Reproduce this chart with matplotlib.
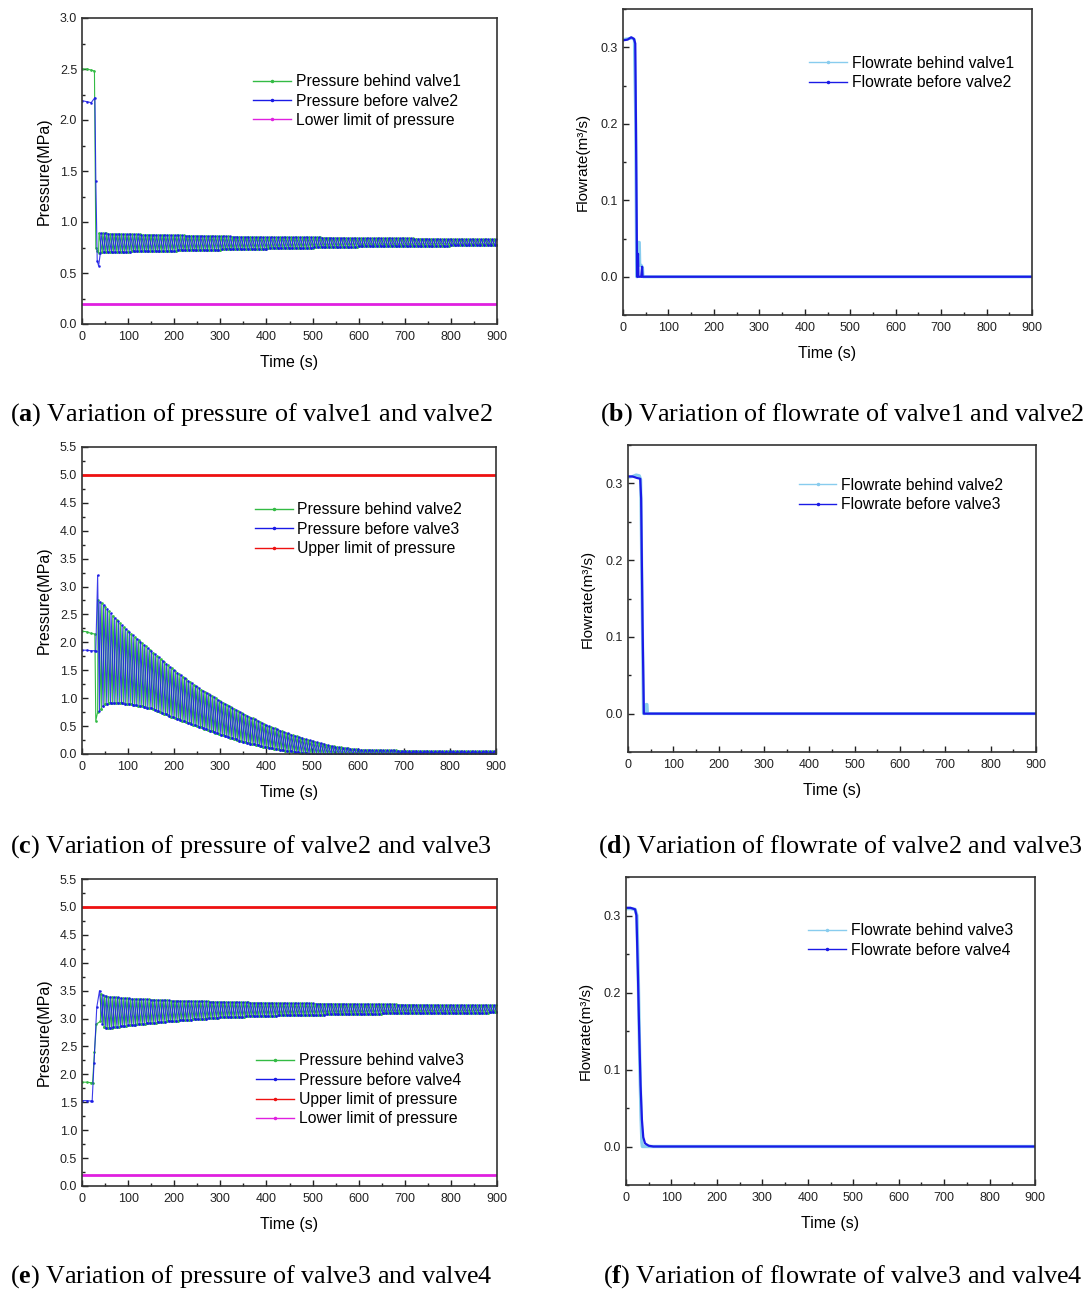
import numpy as np
import matplotlib
matplotlib.use("Agg")
import matplotlib.pyplot as plt
from matplotlib.ticker import MultipleLocator

plt.rcParams['font.family'] = ['Liberation Sans', 'DejaVu Sans']
plt.rcParams['mathtext.fontset'] = 'custom'
plt.rcParams['mathtext.rm'] = 'Liberation Serif'
plt.rcParams['mathtext.bf'] = 'Liberation Serif:bold'

GREEN = '#33bb44'
BLUE = '#1a1ae6'
LIGHT = '#88ccee'
RED = '#ee1111'
MAGENTA = '#e020e0'

# ---- panel (a): pressure valve1 / valve2 ----
a_green_t = [0, 10, 20, 27, 30, 33]
a_green_p = [2.50, 2.50, 2.49, 2.48, 0.75, 0.72]
a_blue_t = [0, 10, 20, 28, 30, 33, 36]
a_blue_p = [2.19, 2.18, 2.17, 2.22, 1.40, 0.62, 0.57]
a_env_t = [36, 100, 200, 300, 400, 500, 600, 700, 800, 900]
a_env_hi = [0.89, 0.88, 0.87, 0.86, 0.85, 0.85, 0.84, 0.84, 0.83, 0.83]
a_env_lo = [0.70, 0.71, 0.72, 0.73, 0.74, 0.75, 0.76, 0.76, 0.77, 0.77]
a_lower = 0.2

# ---- panel (c): pressure valve2 / valve3 ----
c_green_t = [0, 10, 20, 28, 30]
c_green_p = [2.20, 2.19, 2.16, 2.15, 0.60]
c_blue_t = [0, 10, 20, 28, 30, 34]
c_blue_p = [1.86, 1.86, 1.85, 1.85, 1.85, 3.20]
c_env_t = [36, 50, 70, 100, 150, 200, 250, 300, 350, 400, 450, 500, 550, 600, 700, 800, 900]
c_env_hi = [2.75, 2.65, 2.45, 2.20, 1.85, 1.50, 1.20, 0.95, 0.72, 0.52, 0.36, 0.23, 0.13, 0.08, 0.06, 0.05, 0.05]
c_env_lo = [0.75, 0.90, 0.92, 0.90, 0.82, 0.65, 0.50, 0.35, 0.22, 0.12, 0.05, 0.0, 0.0, 0.0, 0.01, 0.01, 0.01]
c_upper = 5.0

# ---- panel (e): pressure valve3 / valve4 ----
e_green_t = [0, 10, 20, 23, 27, 31]
e_green_p = [1.86, 1.86, 1.85, 1.85, 2.40, 2.90]
e_blue_t = [0, 10, 20, 22, 26, 32, 38]
e_blue_p = [1.53, 1.53, 1.52, 1.52, 2.20, 3.20, 3.50]
e_env_t = [40, 50, 100, 200, 300, 400, 500, 600, 700, 800, 900]
e_env_hi = [3.45, 3.40, 3.36, 3.32, 3.30, 3.28, 3.27, 3.26, 3.25, 3.24, 3.24]
e_env_lo = [2.95, 2.82, 2.88, 2.96, 3.02, 3.05, 3.07, 3.08, 3.10, 3.10, 3.11]
e_upper = 5.0
e_lower = 0.2

# ---- flowrate panels ----
b_behind_t = [0, 10, 20, 25, 28, 30, 32, 33, 36, 37, 40, 43, 44, 900]
b_behind_q = [0.310, 0.311, 0.312, 0.310, 0.200, 0.0, 0.0, 0.045, 0.045, 0.015, 0.015, 0.012, 0.0, 0.0]
b_before_t = [0, 10, 18, 24, 27, 29, 31, 33, 34, 40, 42, 43, 900]
b_before_q = [0.309, 0.310, 0.313, 0.311, 0.305, 0.160, 0.0, 0.030, 0.0, 0.0, 0.013, 0.0, 0.0]

d_behind_t = [0, 10, 18, 25, 28, 31, 34, 38, 40, 42, 43, 900]
d_behind_q = [0.308, 0.309, 0.311, 0.310, 0.305, 0.150, 0.0, 0.0, 0.012, 0.012, 0.0, 0.0]
d_before_t = [0, 10, 20, 27, 29, 32, 35, 900]
d_before_q = [0.309, 0.309, 0.307, 0.306, 0.280, 0.120, 0.0, 0.0]

f_behind_t = [0, 10, 20, 24, 27, 30, 33, 35, 36, 900]
f_behind_q = [0.309, 0.309, 0.308, 0.300, 0.220, 0.120, 0.040, 0.005, 0.0, 0.0]
f_before_t = [0, 10, 20, 23, 26, 29, 32, 35, 38, 42, 50, 60, 80, 900]
f_before_q = [0.310, 0.310, 0.308, 0.300, 0.230, 0.150, 0.080, 0.035, 0.012, 0.004, 0.001, 0.0, 0.0, 0.0]

period = 8.0


def sawtooth(t0, t1, env_t, env_hi, env_lo, shift):
    # quick rise to the upper envelope, slow decay to the lower one
    starts = np.arange(t0 + shift, t1, period)
    ts, ps = [], []
    for s in starts:
        ts += [s, s + 1.0, s + period - 0.01]
        ps += [np.interp(s, env_t, env_lo), np.interp(s + 1.0, env_t, env_hi),
               np.interp(s + period, env_t, env_lo)]
    return np.array(ts), np.array(ps)


def px_axes(fig, l, t, r, b):
    W, H = 1088, 1290
    return fig.add_axes([l / W, 1 - b / H, (r - l) / W, (b - t) / H])


def style(ax, ymax, ymin=0.0, ymajor=0.5, yminor=0.25, flow=False):
    ax.set_xlim(0, 900)
    ax.set_ylim(ymin, ymax)
    ax.xaxis.set_major_locator(MultipleLocator(100))
    ax.xaxis.set_minor_locator(MultipleLocator(50))
    if flow:
        ax.set_yticks([0.0, 0.1, 0.2, 0.3])
        ax.set_yticklabels(['0.0', '0.1', '0.2', '0.3'])
    else:
        ax.yaxis.set_major_locator(MultipleLocator(ymajor))
        ax.yaxis.set_major_formatter(lambda v, p: f'{v:.1f}')
    ax.yaxis.set_minor_locator(MultipleLocator(yminor))
    ax.tick_params(which='both', direction='in', labelsize=9, colors='#222222')
    ax.tick_params(axis='x', which='major', pad=5)
    ax.tick_params(which='major', length=4, width=1)
    ax.tick_params(which='minor', length=2.5, width=1)
    for sp in ax.spines.values():
        sp.set_linewidth(1.2)
        sp.set_color('#333333')
    ax.set_xlabel('Time (s)', fontsize=11.5, labelpad=9)
    if flow:
        ax.set_ylabel('Flowrate(m³/s)', fontsize=11, labelpad=8)
    else:
        ax.set_ylabel('Pressure(MPa)', fontsize=11.5, labelpad=6)


def pressure_pair(ax, gt, gp, bt, bp, env_t, env_hi, env_lo, start):
    zt, zp = sawtooth(start, 900, env_t, env_hi, env_lo, 0.0)
    yt, yp = sawtooth(start, 900, env_t, env_hi, env_lo, period / 2)
    ax.plot(np.r_[gt, zt], np.r_[gp, zp], color=GREEN, lw=0.8,
            marker='.', ms=1.8)
    ax.plot(np.r_[bt, yt], np.r_[bp, yp], color=BLUE, lw=0.8,
            marker='.', ms=1.8, alpha=0.85)


def legend_handle(ax, color, label):
    ax.plot([], [], color=color, lw=1.0, marker='.', ms=3, label=label)


def add_legend(ax, x, y):
    ax.legend(loc='upper left', bbox_to_anchor=(x, y), frameon=False, fontsize=11.3,
              handlelength=2.4, handletextpad=0.3, labelspacing=0.28, borderaxespad=0)


fig = plt.figure(figsize=(10.88, 12.9), dpi=100)

# (a)
ax = px_axes(fig, 82, 18, 497, 324)
pressure_pair(ax, a_green_t, a_green_p, a_blue_t, a_blue_p, a_env_t, a_env_hi, a_env_lo, 36)
ax.axhline(a_lower, color=MAGENTA, lw=2)
legend_handle(ax, GREEN, 'Pressure behind valve1')
legend_handle(ax, BLUE, 'Pressure before valve2')
legend_handle(ax, MAGENTA, 'Lower limit of pressure')
add_legend(ax, 0.398, 0.837)
style(ax, 3.0)

# (b)
ax = px_axes(fig, 623, 9, 1032, 315)
ax.plot(b_behind_t, b_behind_q, color=LIGHT, lw=2.2)
ax.plot(b_before_t, b_before_q, color=BLUE, lw=1.6)
legend_handle(ax, LIGHT, 'Flowrate behind valve1')
legend_handle(ax, BLUE, 'Flowrate before valve2')
add_legend(ax, 0.44, 0.868)
style(ax, 0.35, ymin=-0.05, yminor=0.05, flow=True)

# (c)
ax = px_axes(fig, 82, 447, 496, 754)
pressure_pair(ax, c_green_t, c_green_p, c_blue_t, c_blue_p, c_env_t, c_env_hi, c_env_lo, 34)
ax.axhline(c_upper, color=RED, lw=2)
legend_handle(ax, GREEN, 'Pressure behind valve2')
legend_handle(ax, BLUE, 'Pressure before valve3')
legend_handle(ax, RED, 'Upper limit of pressure')
add_legend(ax, 0.403, 0.84)
style(ax, 5.5)

# (d)
ax = px_axes(fig, 628, 445, 1036, 752)
ax.plot(d_behind_t, d_behind_q, color=LIGHT, lw=2.2)
ax.plot(d_before_t, d_before_q, color=BLUE, lw=1.6)
legend_handle(ax, LIGHT, 'Flowrate behind valve2')
legend_handle(ax, BLUE, 'Flowrate before valve3')
add_legend(ax, 0.403, 0.913)
style(ax, 0.35, ymin=-0.05, yminor=0.05, flow=True)

# (e)
ax = px_axes(fig, 82, 879, 497, 1186)
pressure_pair(ax, e_green_t, e_green_p, e_blue_t, e_blue_p, e_env_t, e_env_hi, e_env_lo, 40)
ax.axhline(e_upper, color=RED, lw=2)
ax.axhline(e_lower, color=MAGENTA, lw=2)
legend_handle(ax, GREEN, 'Pressure behind valve3')
legend_handle(ax, BLUE, 'Pressure before valve4')
legend_handle(ax, RED, 'Upper limit of pressure')
legend_handle(ax, MAGENTA, 'Lower limit of pressure')
add_legend(ax, 0.405, 0.453)
style(ax, 5.5)

# (f)
ax = px_axes(fig, 626, 877, 1035, 1185)
ax.plot(f_behind_t, f_behind_q, color=LIGHT, lw=2.4)
ax.plot(f_before_t, f_before_q, color=BLUE, lw=1.6)
legend_handle(ax, LIGHT, 'Flowrate behind valve3')
legend_handle(ax, BLUE, 'Flowrate before valve4')
add_legend(ax, 0.43, 0.87)
style(ax, 0.35, ymin=-0.05, yminor=0.05, flow=True)

captions = [
    (10, 415, 'a', 'Variation of pressure of valve1 and valve2'),
    (600, 415, 'b', 'Variation of flowrate of valve1 and valve2'),
    (10, 847, 'c', 'Variation of pressure of valve2 and valve3'),
    (598, 847, 'd', 'Variation of flowrate of valve2 and valve3'),
    (10, 1277, 'e', 'Variation of pressure of valve3 and valve4'),
    (603, 1277, 'f', 'Variation of flowrate of valve3 and valve4'),
]
for x, y, letter, text in captions:
    fig.text(x / 1088, 1 - y / 1290, f'($\\mathbf{{{letter}}}$) {text}',
             family='Liberation Serif', fontsize=18.8, va='center', ha='left')

fig.savefig('out.png', dpi=100)
